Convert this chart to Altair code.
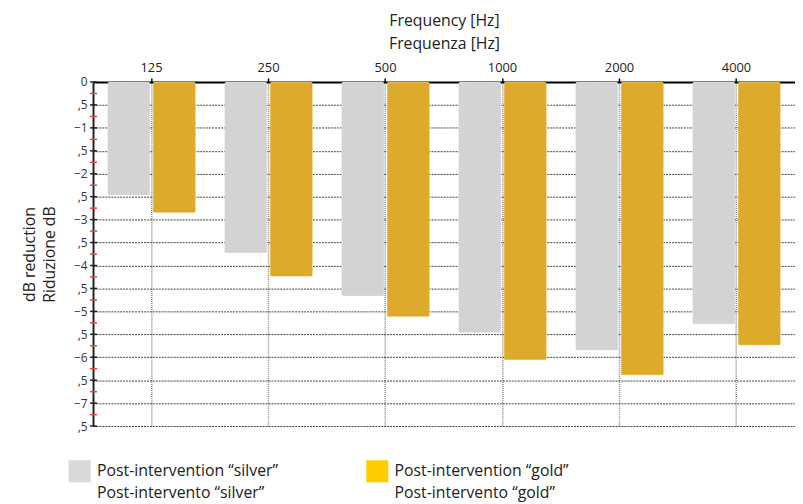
import altair as alt
import pandas as pd

freqs = ["125", "250", "500", "1000", "2000", "4000"]
silver = [-2.47, -3.73, -4.67, -5.46, -5.85, -5.28]
gold = [-2.85, -4.24, -5.12, -6.06, -6.39, -5.74]
series = ["Post-intervention “silver”|Post-intervento “silver”",
          "Post-intervention “gold”|Post-intervento “gold”"]
bar_fill = ["#D3D3D3", "#DEAA2B"]
bar_stroke = ["#E4E4E4", "#EFD38C"]
legend_colors = ["#D9D9D9", "#FFCC00"]
y_ticks = [0, -0.5, -1, -1.5, -2, -2.5, -3, -3.5, -4, -4.5, -5, -5.5, -6, -6.5, -7, -7.5]
minor_ticks = [-0.25, -0.75, -1.25, -1.75, -2.25, -2.75, -3.25, -3.75,
               -4.25, -4.75, -5.25, -5.75, -6.25, -6.75, -7.25]

rows = []
for f, s, g in zip(freqs, silver, gold):
    rows.append({"freq": f, "series": series[0], "value": s, "fill": bar_fill[0], "stroke": bar_stroke[0]})
    rows.append({"freq": f, "series": series[1], "value": g, "fill": bar_fill[1], "stroke": bar_stroke[1]})
df = pd.DataFrame(rows)

ticks_df = pd.DataFrame(
    [{"value": v, "c": "#222222"} for v in y_ticks]
    + [{"value": v, "c": "#E8413A"} for v in minor_ticks]
)
legend_df = pd.DataFrame({"series": series})

FONT = "Open Sans"

yaxis = alt.Axis(values=y_ticks, title=["dB reduction", "Riduzione dB"],
                 labelExpr="abs(datum.value % 1) < 0.01 ? format(datum.value, 'd') : ',5'",
                 labelFontSize=12, labelColor="#333", labelFont=FONT,
                 labelPadding=6, ticks=False, labelOverlap=False,
                 labelBound=False, labelFlush=False,
                 titleFont=FONT, titleFontSize=16, titleFontWeight="normal",
                 titleColor="#222", titleLineHeight=20, titlePadding=16,
                 domainColor="#222", domainWidth=2,
                 grid=True, gridColor="#444", gridDash=[2, 1], gridWidth=1)
yscale = alt.Scale(domain=[-7.5, 0], nice=False)

bars = alt.Chart(df).mark_bar(cornerRadius=2, strokeWidth=1).encode(
    x=alt.X("freq:N", sort=freqs,
            scale=alt.Scale(paddingInner=0.246, paddingOuter=0.123),
            axis=alt.Axis(orient="top", title=["Frequency [Hz]", "Frequenza [Hz]"],
                          labelAngle=0, labelFontSize=13, labelColor="#222",
                          labelFont=FONT, labelPadding=4,
                          titleFont=FONT, titleFontSize=16, titleFontWeight="normal",
                          titleColor="#222", titleLineHeight=23, titlePadding=10,
                          domainColor="#000", domainWidth=2,
                          tickColor="#000", tickSize=4, tickWidth=1.5,
                          grid=True, gridColor="#8a8a8a", gridDash=[1, 1], gridWidth=1.5)),
    xOffset=alt.XOffset("series:N", sort=series, scale=alt.Scale(paddingInner=0.065)),
    y=alt.Y("value:Q", scale=yscale, axis=yaxis),
    fill=alt.Fill("fill:N", scale=None),
    stroke=alt.Stroke("stroke:N", scale=None),
)

legend_layer = alt.Chart(legend_df).mark_square(opacity=0).encode(
    color=alt.Color("series:N", sort=series,
                    scale=alt.Scale(domain=series, range=legend_colors),
                    legend=alt.Legend(orient="none", legendX=-25, legendY=382,
                                      direction="horizontal", title=None,
                                      symbolType="square", symbolSize=500,
                                      symbolStrokeWidth=0, symbolOpacity=1,
                                      labelExpr="split(datum.label, '|')",
                                      labelFont=FONT, labelFontSize=16, labelColor="#222",
                                      labelOffset=6, labelLimit=400,
                                      columnPadding=88, padding=0)),
)

tick_marks = alt.Chart(ticks_df).mark_rule(strokeWidth=1.5).encode(
    y=alt.Y("value:Q", scale=yscale, axis=yaxis),
    x=alt.value(-3),
    x2=alt.value(4),
    stroke=alt.Stroke("c:N", scale=None),
)

chart = alt.layer(bars, tick_marks, legend_layer).properties(
    width=710, height=348,
    autosize="none",
    padding={"left": 86, "top": 72, "right": 0, "bottom": 76},
).configure(
    font=FONT,
    style={"guide-label": {"lineHeight": 22}},
).configure_view(stroke=None)

chart.save("out.html", embed_options={"renderer": "svg", "actions": False})
